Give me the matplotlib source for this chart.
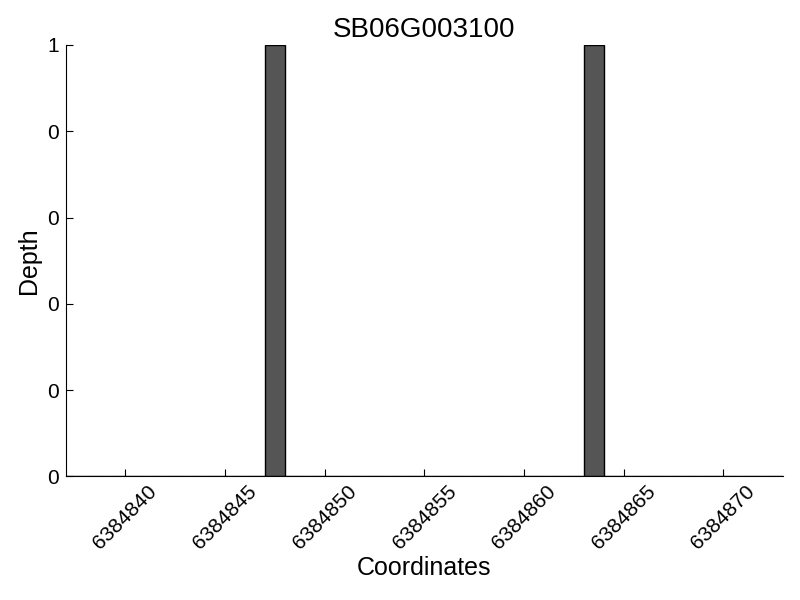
import numpy as np
import matplotlib
matplotlib.use("Agg")
import matplotlib.pyplot as plt
from matplotlib.ticker import FormatStrFormatter

plt.rcParams['font.family'] = ['Liberation Sans', 'DejaVu Sans']

gene = "SB06G003100"
coords = np.arange(6384837, 6384873)
depth = [0, 0, 0, 0, 0, 0, 0, 0, 0, 0,
         1, 0, 0, 0, 0, 0, 0, 0, 0, 0,
         0, 0, 0, 0, 0, 0, 1, 0, 0, 0,
         0, 0, 0, 0, 0, 0]
xticks = [6384840, 6384845, 6384850, 6384855, 6384860, 6384865, 6384870]

fig = plt.figure(figsize=(8, 6), dpi=100)
ax = fig.add_axes([0.082, 0.206, 0.897, 0.719])
ax.bar(coords, depth, width=1, align='edge', color='#555555',
       edgecolor='black', linewidth=1)
ax.set_xlim(coords[0], coords[-1] + 1)
ax.set_ylim(0, 1)
ax.set_xticks(xticks)
ax.set_xticklabels([str(t) for t in xticks], rotation=45, ha='center')
ax.yaxis.set_major_formatter(FormatStrFormatter('%d'))
ax.set_yticks(np.linspace(0, 1, 6))
ax.tick_params(direction='in', labelsize=15, length=5, width=0.8)
ax.tick_params(axis='y', pad=5)
ax.tick_params(axis='x', pad=4)
ax.spines['top'].set_visible(False)
ax.spines['right'].set_visible(False)
ax.set_title(gene, fontsize=20)
ax.set_xlabel("Coordinates", fontsize=18, labelpad=2)
ax.set_ylabel("Depth", fontsize=18)
fig.savefig("out.png")
